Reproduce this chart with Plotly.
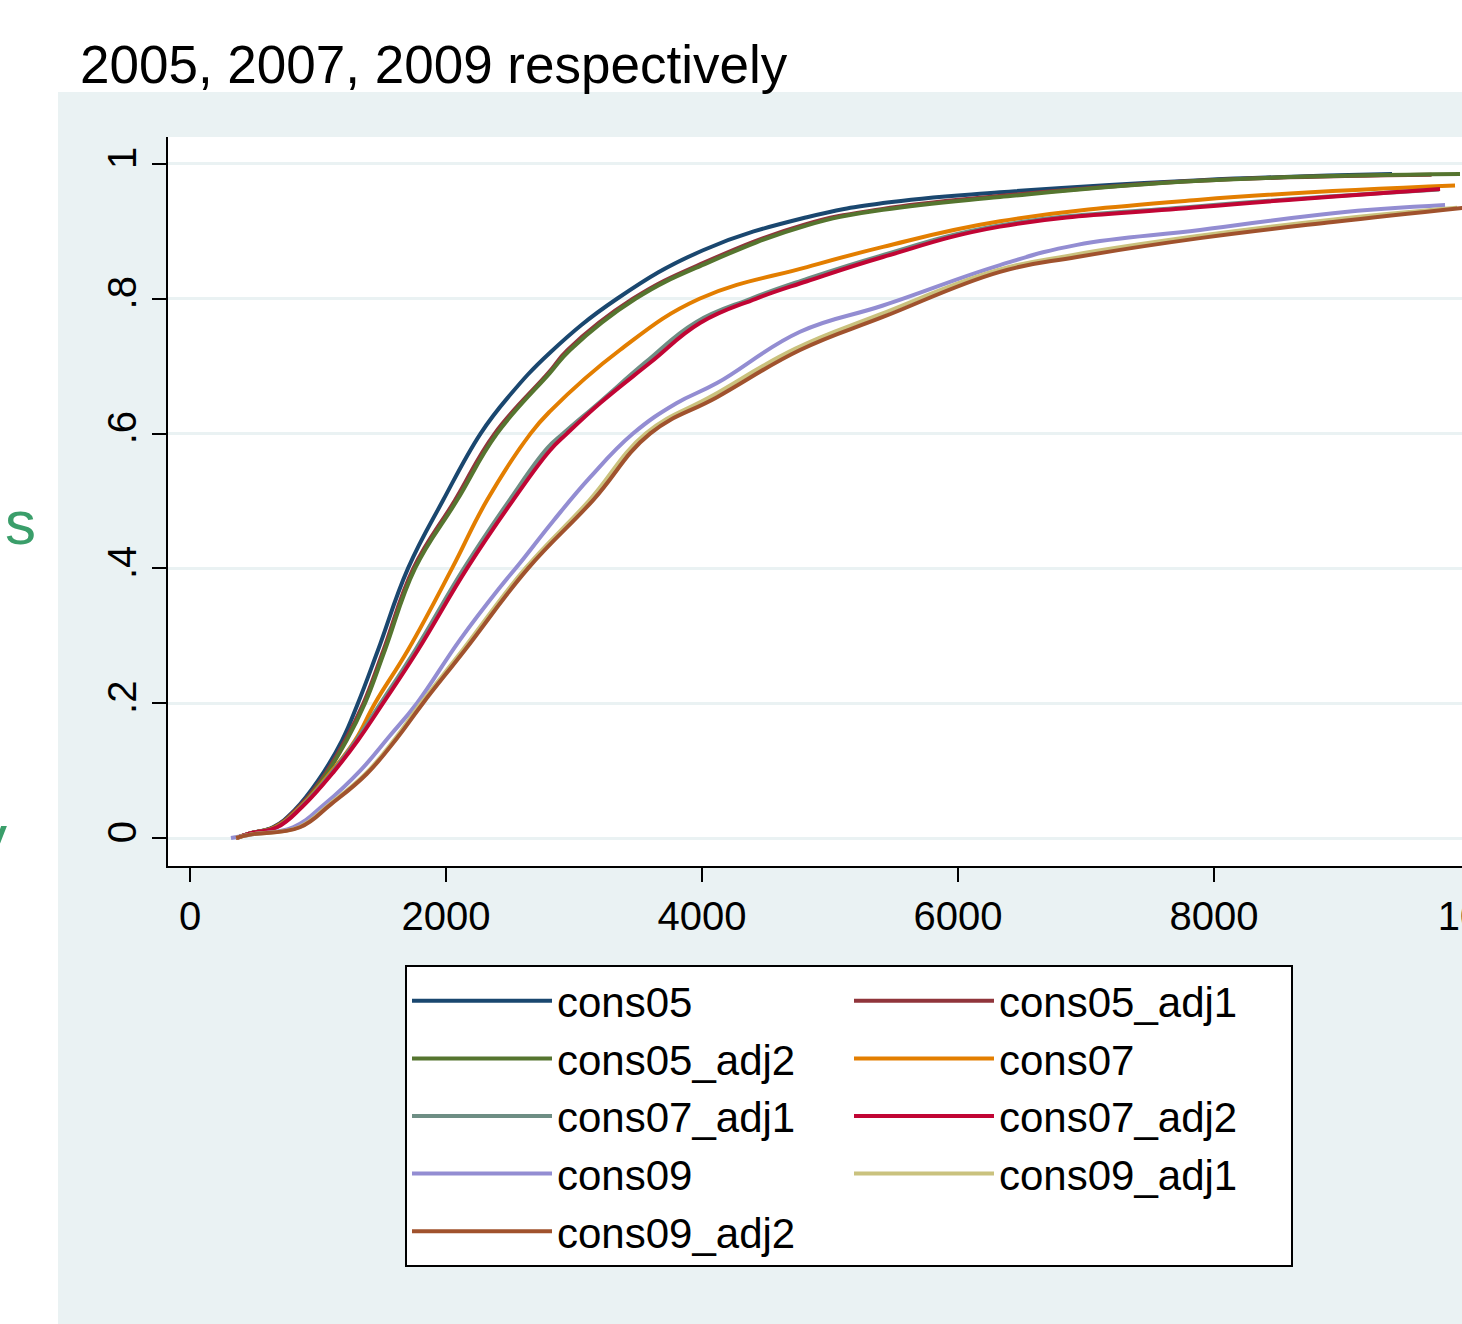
import plotly.graph_objects as go

# ---------------- data ----------------
names = ["cons05", "cons05_adj1", "cons05_adj2", "cons07", "cons07_adj1",
         "cons07_adj2", "cons09", "cons09_adj1", "cons09_adj2"]

cons05_x = [360, 469, 648, 820, 1000, 1188, 1312, 1469, 1703, 1977, 2270, 2490, 2812, 3336, 4008, 4820, 5414, 6328, 7891, 9391]
cons05_y = [0, .007, .016, .042, .085, .145, .2, .279, .4, .501, .6, .655, .72, .8, .872, .921, .942, .958, .976, .985]

cons05_adj1_x = [360, 469, 655, 835, 1020, 1212, 1355, 1512, 1745, 2070, 2380, 2800, 2950, 3460, 4020, 4800, 5400, 6300, 7880, 9700]
cons05_adj1_y = [0, .007, .016, .043, .085, .145, .2, .279, .4, .501, .6, .69, .724, .8, .854, .91, .933, .952, .975, .984]

cons05_adj2_x = [360, 469, 660, 845, 1030, 1224, 1367, 1523, 1758, 2086, 2398, 2812, 2969, 3480, 4039, 4820, 5414, 6328, 7891, 9922]
cons05_adj2_y = [0, .007, .016, .043, .085, .145, .2, .279, .4, .501, .6, .69, .724, .8, .853, .909, .932, .951, .975, .985]

cons07_x = [360, 469, 665, 862, 1110, 1290, 1445, 1703, 2047, 2320, 2660, 2812, 3359, 3980, 4820, 5414, 6328, 7891, 9883]
cons07_y = [0, .007, .016, .046, .1, .145, .2, .279, .4, .501, .6, .633, .724, .8, .847, .877, .915, .947, .968]

cons07_adj1_x = [360, 469, 675, 868, 1120, 1298, 1490, 1760, 2140, 2495, 2790, 2915, 3203, 3560, 3950, 4380, 4780, 5380, 6300, 7860, 9760]
cons07_adj1_y = [0, .007, .016, .046, .1, .145, .2, .279, .4, .501, .578, .6, .647, .706, .765, .8, .827, .863, .908, .937, .962]

cons07_adj2_x = [360, 469, 680, 875, 1130, 1312, 1508, 1781, 2164, 2523, 2812, 2945, 3203, 3594, 3984, 4420, 4820, 5414, 6328, 7891, 9766]
cons07_adj2_y = [0, .007, .016, .046, .1, .145, .2, .279, .4, .501, .575, .6, .645, .705, .764, .8, .826, .862, .907, .936, .963]

cons09_x = [320, 469, 805, 1050, 1330, 1563, 1773, 2109, 2422, 2578, 2836, 3125, 3461, 3800, 4117, 4766, 5414, 6328, 6930, 7891, 8930, 9805]
cons09_y = [0, .005, .016, .05, .1, .152, .2, .294, .372, .408, .47, .535, .6, .645, .675, .751, .79, .85, .88, .902, .927, .939]

cons09_adj1_x = [360, 469, 850, 1090, 1370, 1605, 1805, 2130, 2620, 3120, 3560, 4080, 4730, 5380, 6300, 6900, 7870, 8900, 9900]
cons09_adj1_y = [0, .005, .016, .05, .095, .148, .2, .279, .4, .501, .6, .656, .726, .776, .842, .865, .893, .917, .935]

cons09_adj2_x = [360, 469, 859, 1100, 1380, 1617, 1820, 2148, 2641, 3148, 3594, 4117, 4766, 5414, 6328, 6930, 7891, 8930, 10050]
cons09_adj2_y = [0, .005, .016, .05, .095, .148, .2, .279, .4, .501, .6, .654, .724, .773, .84, .862, .89, .914, .937]

xs = [cons05_x, cons05_adj1_x, cons05_adj2_x, cons07_x, cons07_adj1_x,
      cons07_adj2_x, cons09_x, cons09_adj1_x, cons09_adj2_x]
ys = [cons05_y, cons05_adj1_y, cons05_adj2_y, cons07_y, cons07_adj1_y,
      cons07_adj2_y, cons09_y, cons09_adj1_y, cons09_adj2_y]

x_ticks = [0, 2000, 4000, 6000, 8000, 10000]
y_ticks = [0, 0.2, 0.4, 0.6, 0.8, 1]
y_ticktext = ["0", ".2", ".4", ".6", ".8", "1"]

title_text = "2005, 2007, 2009 respectively"

# ---------------- styling ----------------
colors = ["#1a476f", "#90353b", "#55752f", "#e37e00", "#6e8e84",
          "#c10534", "#938dd2", "#cac27e", "#a0522d"]
FONT = "Liberation Sans, Arial, Helvetica, sans-serif"
REGION = "#EAF2F3"

W, H = 1600, 1324
ML, MR, MT, MB = 168, 130, 137, 458
PW, PH = W - ML - MR, H - MT - MB

def px2paper_x(px):
    return (px - ML) / PW

def px2paper_y(py):
    return (H - MB - py) / PH

fig = go.Figure()
for n, x, y, c in zip(names, xs, ys, colors):
    fig.add_trace(go.Scatter(x=x, y=y, mode="lines", name=n,
                             line=dict(color=c, width=4, shape="spline", smoothing=1.2)))

fig.update_layout(
    width=W, height=H,
    margin=dict(l=ML, r=MR, t=MT, b=MB, pad=0),
    paper_bgcolor=REGION,
    plot_bgcolor="white",
    font=dict(family=FONT, color="black"),
    title=dict(text=title_text, font=dict(size=53, family=FONT, color="black"),
               x=80 / W, xanchor="left", xref="container",
               y=1 - 64 / H, yanchor="middle", yref="container"),
    xaxis=dict(range=[-172, 10000], tickvals=x_ticks, ticks="outside", ticklen=14,
               tickwidth=2, tickcolor="black", showline=True, linecolor="black",
               linewidth=2, showgrid=False, zeroline=False,
               tickfont=dict(size=40, family=FONT, color="black")),
    yaxis=dict(range=[-0.0415, 1.040], tickvals=y_ticks, ticktext=y_ticktext,
               tickangle=-90, ticks="outside", ticklen=14, tickwidth=2,
               tickcolor="black", showline=True, linecolor="black", linewidth=2,
               showgrid=True, gridcolor=REGION, gridwidth=3, zeroline=False,
               tickfont=dict(size=40, family=FONT, color="black")),
    legend=dict(orientation="h", x=px2paper_x(405), xanchor="left",
                y=px2paper_y(965), yanchor="top",
                bgcolor="white", bordercolor="black", borderwidth=2,
                font=dict(size=42, family=FONT, color="black"),
                itemwidth=140, entrywidth=287, traceorder="normal"),
    showlegend=True,
)

# white outer area (outside Stata's graph region)
fig.add_shape(type="rect", xref="paper", yref="paper", layer="below",
              x0=-1, x1=2, y0=px2paper_y(92), y1=2, fillcolor="white", line_width=0)
fig.add_shape(type="rect", xref="paper", yref="paper", layer="below",
              x0=-1, x1=px2paper_x(58), y0=-1, y1=2, fillcolor="white", line_width=0)

# fragments of text to the left of the graph
fig.add_annotation(text="s", xref="paper", yref="paper", x=px2paper_x(20), y=px2paper_y(522),
                   xanchor="center", yanchor="middle", showarrow=False,
                   font=dict(size=62, family=FONT, color="#3a9e6a"))
fig.add_annotation(text="y", xref="paper", yref="paper", x=px2paper_x(9), y=px2paper_y(836),
                   xanchor="right", yanchor="middle", showarrow=False,
                   font=dict(size=62, family=FONT, color="#3a9e6a"))

fig.write_html("out.html", config={"displayModeBar": False},
               post_script="document.body.style.margin='0';document.body.style.overflow='hidden';")
